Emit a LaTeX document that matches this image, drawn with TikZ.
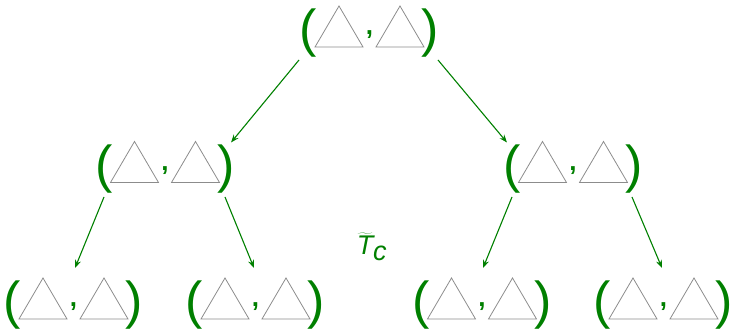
\documentclass[tikz,border=0pt]{standalone}
\usepackage{fontspec}
\setmainfont{Liberation Sans}
\usetikzlibrary{arrows.meta,calc}
\definecolor{dgreen}{RGB}{0,128,0}
\definecolor{trigray}{RGB}{140,140,140}
\tikzset{
 pairbox/.style={minimum width=130pt, minimum height=56pt, inner sep=0pt, draw=none},
 paren/.style={text=dgreen, font=\fontsize{52}{52}\selectfont, inner sep=0pt},
 commanode/.style={text=dgreen, font=\fontsize{26}{26}\selectfont\bfseries, inner sep=0pt},
 tri/.style={draw=trigray, line width=0.8pt, line join=miter},
 arr/.style={draw=dgreen, line width=1.1pt, -{Stealth[length=8pt,width=6pt]}},
 lbl/.style={text=dgreen, font=\fontsize{27}{27}\selectfont, inner sep=1pt},
}
\newcommand\pairpic[3]{%
 \node[pairbox] (#1) at (#2,#3) {};
 \begin{scope}[shift={(#1.center)}]
 \draw[tri] (-54.5,20) -- (-30.5,-21) -- (-6.5,20) -- cycle;
 \draw[tri] (6.5,20) -- (30.5,-21) -- (54.5,20) -- cycle;
 \node[paren] (#1-l) at (-61,6.5) {(};
 \node[paren] (#1-r) at (61,6.5) {)};
 \node[commanode] (#1-c) at (0,8) {,};
 \end{scope}}
\begin{document}
\begin{tikzpicture}[x=1pt,y=-1pt]
\useasboundingbox (0,0) rectangle (732,331);
\pairpic{t}{369.5}{27}
\pairpic{ml}{165}{162.5}
\pairpic{mr}{573}{162.5}
\pairpic{b1}{73.5}{299}
\pairpic{b2}{255.5}{299}
\pairpic{b3}{482}{299}
\pairpic{b4}{663.5}{299}
\draw[arr] ($(t)+(-70.5,33)$) -- ($(ml)+(66,-20)$);
\draw[arr] ($(t)+(68.5,33)$) -- ($(mr)+(-66,-20)$);
\draw[arr] ($(ml)+(-61,34.5)$) -- ($(b1)+(1.5,-31)$);
\draw[arr] ($(ml)+(60,34.5)$) -- ($(b2)+(-1.5,-31)$);
\draw[arr] ($(mr)+(-61,34.5)$) -- ($(b3)+(1,-31)$);
\draw[arr] ($(mr)+(59,34.5)$) -- ($(b4)+(-1.5,-31)$);
\node[lbl] (tc) at (372,247) {$\widetilde{\mbox{\itshape T}}_{\mbox{\itshape c}}$};
\end{tikzpicture}
\end{document}
